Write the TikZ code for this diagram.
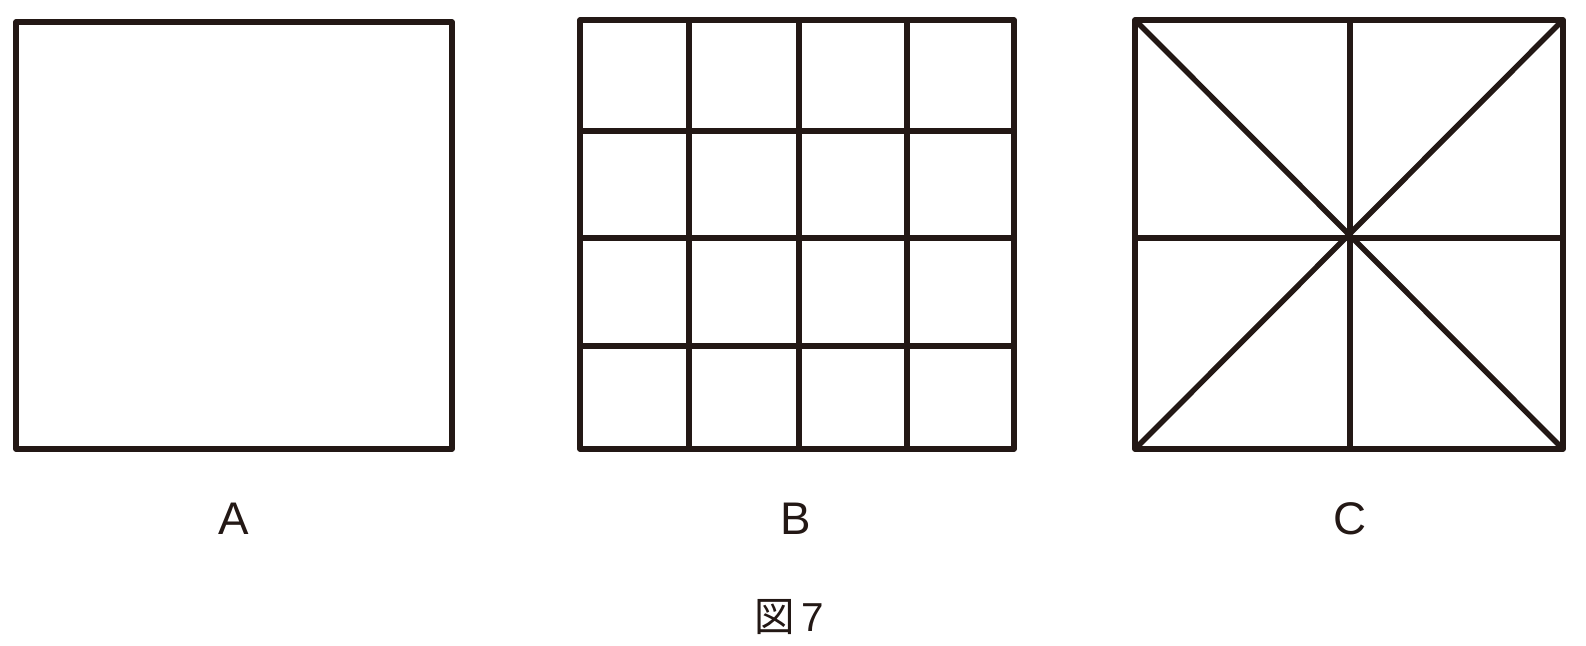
\documentclass[tikz,border=0pt]{standalone}
\usepackage{fontspec}
\setmainfont{Liberation Sans}
\newfontfamily\jpfont{Noto Sans CJK JP}
\usepackage{tikz}
\usetikzlibrary{positioning}
\definecolor{ink}{HTML}{231815}

\begin{document}
\begin{tikzpicture}[x=0.01cm,y=-0.01cm,line width=1.55pt,ink,line join=round]
\useasboundingbox (0,0) rectangle (1586,646);
% A
\draw (16,22) rectangle (452,449);
% B
\draw (580,20) rectangle (1014,449);
\draw (689,20)--(689,449);
\draw (799,20)--(799,449);
\draw (907,20)--(907,449);
\draw (580,131)--(1014,131);
\draw (580,238)--(1014,238);
\draw (580,346)--(1014,346);
% C
\draw (1135,20) rectangle (1563,449);
\draw (1135,20)--(1563,449);
\draw (1563,20)--(1135,449);
\draw (1350,20)--(1350,449);
\draw (1135,238)--(1563,238);
% labels
\node[font=\fontsize{13}{15}\selectfont] (labA) at (234,519) {A};
\node[font=\fontsize{13}{15}\selectfont] (labB) at (796,519) {B};
\node[font=\fontsize{13}{15}\selectfont] (labC) at (1350,519) {C};
\node[font=\fontsize{11.5}{14}\selectfont] (cap) at (789,617) {{\jpfont 図}\,7};
\end{tikzpicture}
\end{document}
